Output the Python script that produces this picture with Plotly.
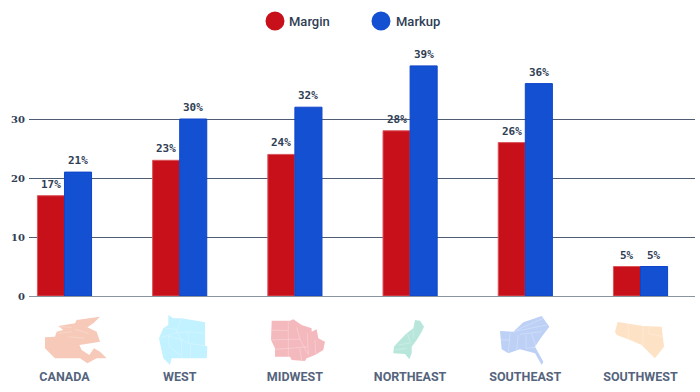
import plotly.graph_objects as go

categories = ["CANADA", "WEST", "MIDWEST", "NORTHEAST", "SOUTHEAST", "SOUTHWEST"]
margin = [17, 23, 24, 28, 26, 5]
markup = [21, 30, 32, 39, 36, 5]
y_ticks = [0, 10, 20, 30]

W, H = 700, 392
L, R, T, B = 29, 5, 60, 96
PW, PH = W - L - R, H - T - B
BAR_SHIFT = 13.5


def fx(x):
    return (x - L) / PW


def fy(y):
    return (H - B - y) / PH


# Decorative region icons drawn in crop coordinates: (origin x, colour, outline, inner lines)
ICONS = [
    (0, "#f6c9b8",
     [(135,142),(165,140),(170,125),(190,120),(175,108),(225,100),(230,90),(300,80),(280,100),(262,112),(290,125),(300,155),
      (272,160),(238,165),(245,180),(268,195),(282,175),(300,185),(320,205),(290,205),(262,220),(240,205),(165,205),(135,175)],
     [[(175,130),(215,125)], [(225,118),(265,130)], [(205,140),(255,145)], [(180,110),(215,112)]]),
    (0, "#c2f1ff",
     [(505,75),(520,85),(545,85),(615,97),(615,165),(622,170),(620,205),(540,205),(515,205),(510,225),(490,205),(480,160),(477,145),(490,115),(505,105)],
     [[(497,115),(530,118)], [(480,143),(530,128),(565,125),(612,130)], [(545,85),(530,125),(545,150),(545,205)],
      [(505,138),(508,170),(540,195)], [(505,138),(545,150),(565,160),(622,168)], [(565,125),(565,160)], [(572,165),(572,205)]]),
    (0, "#f4b9bd",
     [(815,92),(870,92),(880,88),(905,105),(935,115),(935,125),(950,118),(955,145),(975,155),(970,180),(945,195),(920,205),(915,213),(875,210),(870,200),(825,200),(825,175),(813,150)],
     [[(815,120),(865,122)], [(813,150),(865,148),(900,148)], [(865,92),(865,200)], [(825,178),(870,175),(922,170)],
      [(890,112),(900,148),(922,190)], [(922,130),(925,195)], [(945,150),(947,190)], [(900,175),(905,210)]]),
    (350, "#b8e6db",
     [(195,90),(210,92),(222,110),(215,125),(200,150),(185,170),(185,190),(178,208),(165,192),(130,190),(132,170),(150,150),(170,130),(190,115)],
     [[(190,120),(190,145)], [(172,130),(180,155)], [(145,165),(185,158)], [(135,180),(170,175)]]),
    (350, "#bdd0f5",
     [(450,123),(490,125),(520,97),(575,78),(598,110),(575,140),(555,170),(580,215),(575,225),(555,190),(510,178),(475,190),(455,178)],
     [[(490,125),(590,105)], [(500,120),(580,85)], [(510,133),(575,125)], [(453,150),(480,150)], [(480,130),(475,190)],
      [(505,135),(500,180)], [(528,135),(528,175),(555,172)], [(545,130),(558,170)]]),
    (350, "#fde2c6",
     [(803,96),(880,108),(935,110),(942,170),(915,205),(895,185),(875,165),(840,150),(800,135),(795,125)],
     [[(835,103),(835,148)], [(880,108),(878,165)], [(900,110),(895,130),(940,140)]]),
]


def crop_path(origin, pts, close):
    d = "M " + " L ".join(f"{fx(origin + x / 3):.4f},{fy(290 + y / 3):.4f}" for x, y in pts)
    return d + " Z" if close else d


fig = go.Figure()
fig.add_bar(name="Margin", x=categories, y=margin, marker=dict(color="#c8101a", line=dict(color="#d9565c", width=1)))
fig.add_bar(name="Markup", x=categories, y=markup, marker=dict(color="#1450d2", line=dict(color="#0f45c8", width=1)))

shapes = []
for origin, colour, outline, lines in ICONS:
    shapes.append(dict(type="path", xref="paper", yref="paper", path=crop_path(origin, outline, True),
                       line=dict(width=0), fillcolor=colour))
    for seg in lines:
        shapes.append(dict(type="path", xref="paper", yref="paper", path=crop_path(origin, seg, False),
                           line=dict(width=0.5, color="rgba(255,255,255,0.5)")))

for cx, colour in ((275, "#c8101a"), (381, "#1450d2")):
    shapes.append(dict(type="circle", xref="paper", yref="paper",
                       x0=fx(cx - 9.5), x1=fx(cx + 9.5), y0=fy(30.5), y1=fy(11.5),
                       fillcolor=colour, line=dict(width=0)))

annotations = [
    dict(text=t, xref="paper", yref="paper", x=fx(px), y=fy(21), xanchor="left", yanchor="middle",
         showarrow=False, font=dict(family="Roboto", size=13, color="#2f3e55", weight=500))
    for t, px in (("Margin", 287), ("Markup", 394))
]
label_font = dict(family="DejaVu Sans Mono", size=11, color="#2f3e55", weight="bold")
for values, shift in ((margin, -BAR_SHIFT), (markup, BAR_SHIFT)):
    for cat, v in zip(categories, values):
        annotations.append(dict(text=f"{v}%", x=cat, y=v, xref="x", yref="y", xshift=shift, yshift=3,
                                yanchor="bottom", showarrow=False, font=label_font))

fig.update_layout(
    width=W, height=H, margin=dict(l=L, r=R, t=T, b=B),
    paper_bgcolor="white", plot_bgcolor="white", showlegend=False,
    barmode="group", bargap=0.53, bargroupgap=0,
    shapes=shapes, annotations=annotations,
    font=dict(family="Roboto", color="#2f3e55"),
    xaxis=dict(type="category", range=[-0.308, 5.473], showgrid=False, ticks="",
               tickfont=dict(family="Roboto", size=12.5, color="#55647c", weight="bold"),
               showline=True, linecolor="#8a93a0", linewidth=1, ticklabelstandoff=69),
    yaxis=dict(range=[0, 40], tickvals=y_ticks, showgrid=True, gridcolor="#4f5d73", gridwidth=1,
               zeroline=False, ticks="", ticklabelstandoff=3,
               tickfont=dict(family="DejaVu Serif", size=10, color="#2f3e55", weight="bold")),
)
fig.write_html("out.html", config={"displayModeBar": False}, post_script="document.body.style.margin='0';")
